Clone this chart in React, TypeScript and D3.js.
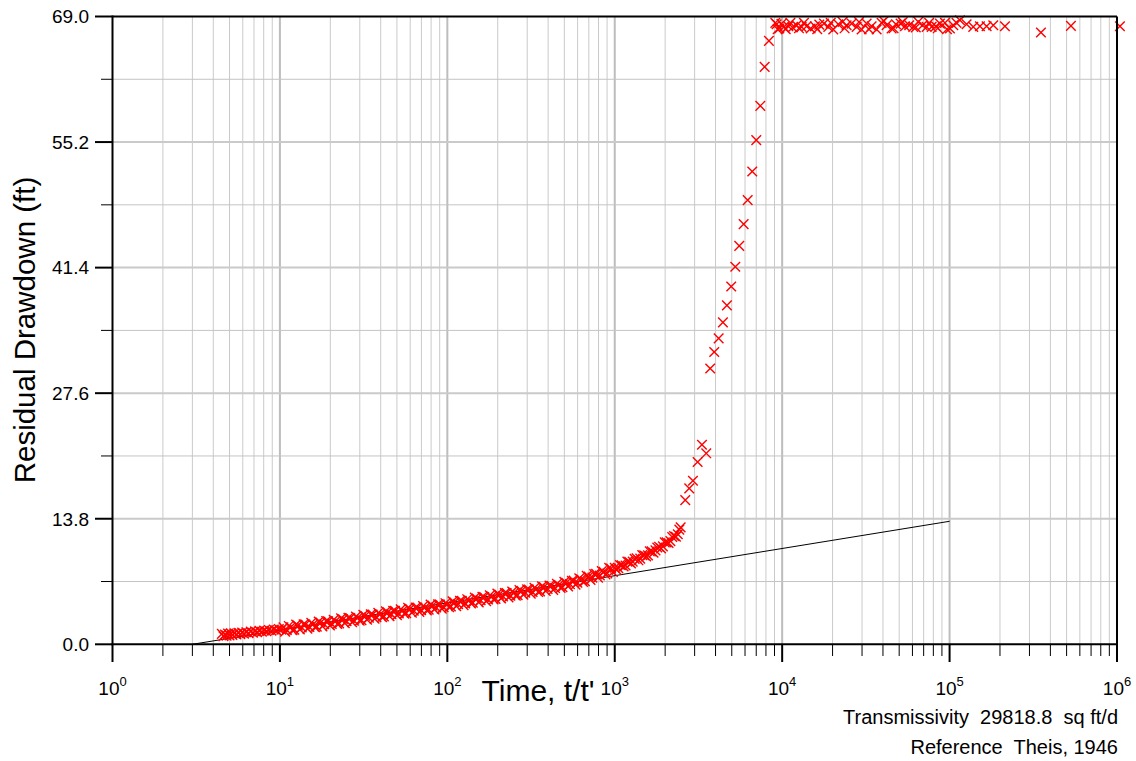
import React from "react";
import * as d3 from "d3";

// ---------- data ----------
// Ratio t/t' and residual drawdown (ft) - main set of readings
const timeRatio: number[] = [
  // early recovery band (t/t' 4.5 - 10)
  4.5, 4.6, 4.7, 4.8, 4.9, 5.0, 5.1, 5.2, 5.35, 5.5, 5.65, 5.8, 5.95, 6.1, 6.3, 6.5, 6.7, 6.9, 7.1, 7.3,
  7.55, 7.8, 8.05, 8.3, 8.6, 8.9, 9.2, 9.5, 9.85, 10.2,
  // 10 - 100
  10.5, 11, 11.6, 12.2, 12.8, 13.5, 14.2, 15, 15.8, 16.6, 17.5, 18.4, 19.4, 20.4, 21.5, 22.6, 23.8, 25,
  26.3, 27.7, 29.2, 30.7, 32.3, 34, 35.8, 37.7, 39.7, 41.8, 44, 46.3, 48.7, 51.3, 54, 56.8, 59.8, 63,
  66.3, 69.8, 73.5, 77.4, 81.5, 85.8, 90.3, 95,
  // 100 - 1000
  100, 105, 110, 116, 122, 128, 135, 142, 150, 158, 166, 175, 184, 194, 204, 215, 226, 238, 250, 263,
  277, 292, 307, 323, 340, 358, 377, 397, 418, 440, 463, 487, 513, 540, 568, 598, 630, 663, 698, 735,
  774, 815, 858, 903, 950,
  // 1000 - 2500
  1000, 1050, 1100, 1160, 1220, 1280, 1350, 1420, 1500, 1580, 1660, 1750, 1840, 1940, 2040, 2150,
  2260, 2380, 2476,
  // steep rise
  2637, 2786, 2931, 3126, 3319, 3520, 3717, 3928, 4175, 4427, 4677, 4963, 5248, 5541, 5888, 6223,
  6627, 7003, 7400, 7860, 8337,
  // plateau
  9265, 9610, 10247, 10877, 11545, 12200, 13065, 13996, 14790, 15700, 16660, 17770, 18860, 20200,
  21640, 22960, 24260, 25990, 27850, 29820, 31950, 34230, 36660, 39270, 42070, 45060, 47820, 51000,
  54120, 57430, 60700, 65010, 69030, 72930, 78100, 82880, 87590, 93840, 100500, 105200, 115300,
  126400, 138500, 151800, 166400, 182400, 214100, 351300, 530700, 1041000,
];

const residualDrawdown: number[] = [
  1.15, 0.88, 1.08, 0.95, 1.18, 0.98, 1.2, 1.02, 1.22, 1.08, 1.26, 1.12, 1.3, 1.16, 1.33, 1.22, 1.4, 1.27,
  1.44, 1.32, 1.48, 1.38, 1.52, 1.43, 1.58, 1.49, 1.62, 1.55, 1.68, 1.6,
  1.87, 1.57, 1.87, 1.6, 2.05, 1.85, 2.18, 1.9, 2.2, 1.94, 2.4, 2.2, 2.54, 2.24, 2.55, 2.29, 2.75, 2.55,
  2.89, 2.6, 2.92, 2.66, 3.13, 2.93, 3.28, 2.99, 3.31, 3.05, 3.52, 3.32, 3.67, 3.38, 3.69, 3.43, 3.89,
  3.69, 4.03, 3.74, 4.05, 3.79, 4.25, 4.04, 4.38, 4.09,
  4.4, 4.15, 4.61, 4.42, 4.77, 4.49, 4.81, 4.56, 5.04, 4.85, 5.2, 4.92, 5.24, 4.99, 5.46, 5.27, 5.62,
  5.34, 5.65, 5.4, 5.87, 5.68, 6.02, 5.74, 6.06, 5.81, 6.28, 6.09, 6.44, 6.18, 6.51, 6.27, 6.76, 6.61,
  7.0, 6.77, 7.14, 6.93, 7.45, 7.33, 7.76, 7.56, 7.96, 7.79, 8.33,
  8.42, 8.37, 8.68, 8.66, 9.07, 9.09, 9.46, 9.42, 9.78, 9.77, 10.21, 10.32, 10.73, 10.76, 11.2, 11.34,
  11.91, 12.09, 12.85,
  15.85, 17.14, 17.97, 20.03, 21.93, 20.99, 30.32, 32.12, 33.62, 35.38, 37.25, 39.33, 41.49, 43.79,
  46.18, 48.82, 51.97, 55.41, 59.18, 63.46, 66.32,
  68.15, 67.68, 67.86, 67.93, 67.79, 68.04, 67.86, 67.93, 67.68, 67.93, 68.11, 68.22, 67.86, 67.57,
  68.15, 68.41, 68.04, 68.22, 67.86, 67.57, 68.22, 67.93, 67.57, 68.3, 68.04, 67.68, 68.15, 68.22,
  67.93, 68.04, 67.86, 68.41, 68.04, 67.86, 67.86, 67.93, 68.22, 68.3, 67.68, 68.04, 68.59, 68.15,
  67.86, 67.93, 67.93, 68.04, 67.93, 67.24, 67.97, 67.93,
];

// second, interleaved set of readings (fills out the dense band and plateau)
const timeRatioB: number[] = [
  10.75, 11.3, 11.9, 12.5, 13.15, 13.85, 14.6, 15.4, 16.2, 17.05, 17.95, 18.9, 19.9, 20.95, 22.05,
  23.2, 24.4, 25.65, 27, 28.45, 29.95, 31.5, 33.15, 34.9, 36.75, 38.7, 40.75, 42.9, 45.15, 47.5, 50,
  52.65, 55.4, 58.3, 61.4, 64.65, 68.05, 71.65, 75.45, 79.45, 83.65, 88.05, 92.65, 97.5,
  102.5, 107.5, 113, 119, 125, 131.5, 138.5, 146, 154, 162, 170.5, 179.5, 189, 199, 209.5, 220.5, 232,
  244, 256.5, 270, 284.5, 299.5, 315, 331.5, 349, 367.5, 387, 407.5, 429, 451.5, 475, 500, 526.5, 554,
  583, 614, 646.5, 680.5, 716.5, 754.5, 794.5, 836.5, 880.5, 926.5, 975,
  1025, 1075, 1130, 1190, 1250, 1315, 1385, 1460, 1540, 1620, 1705, 1795, 1890, 1990, 2095, 2205,
  2320, 2430,
  9100, 9400, 9900, 10500, 11200, 12600, 13500, 16200, 19500, 23600, 28800, 33000, 40500, 46300,
  52500, 62800, 75500, 85000, 96500, 110000,
];

const residualDrawdownB: number[] = [
  1.39, 2.02, 1.55, 2.17, 1.62, 2.2, 1.71, 2.36, 1.88, 2.51, 1.97, 2.56, 2.07, 2.7, 2.23, 2.86, 2.32,
  2.91, 2.42, 3.06, 2.6, 3.23, 2.7, 3.29, 2.81, 3.45, 2.99, 3.63, 3.09, 3.68, 3.2, 3.84, 3.37, 4.0, 3.46,
  4.05, 3.56, 4.2, 3.73, 4.36, 3.82, 4.4, 3.91, 4.52,
  4.08, 4.72, 4.19, 4.79, 4.31, 4.96, 4.5, 5.14, 4.61, 5.21, 4.73, 5.38, 4.93, 5.57, 5.04, 5.63, 5.15,
  5.8, 5.33, 5.97, 5.44, 6.04, 5.56, 6.21, 5.74, 6.38, 5.85, 6.45, 5.98, 6.65, 6.2, 6.86, 6.35, 6.99,
  6.56, 7.26, 6.84, 7.53, 7.06, 7.73, 7.33, 8.06, 7.68, 8.4, 7.95,
  8.18, 8.72, 8.56, 9.09, 8.88, 9.39, 9.23, 9.8, 9.66, 10.21, 10.06, 10.64, 10.54, 11.2, 11.13, 11.79,
  11.82, 12.6,
  68.3, 67.6, 68.2, 67.6, 68.3, 67.7, 68.3, 67.6, 68.3, 67.7, 68.4, 67.6, 68.5, 67.7, 68.4, 67.8, 68.3,
  67.7, 67.6, 68.3,
];

// Straight-line (Cooper-Jacob) fit
const fitTime: number[] = [3.0, 100000];
const fitDrawdown: number[] = [0, 13.52];

const yTickValues: number[] = [0, 13.8, 27.6, 41.4, 55.2, 69.0];
const yMinorValues: number[] = [6.9, 20.7, 34.5, 48.3, 62.1];
const xDecades: number[] = [0, 1, 2, 3, 4, 5, 6];

const FONT = "'Liberation Sans', Arial, Helvetica, sans-serif";

export default function App() {
  const W = 1136;
  const H = 761;
  const left = 112.5;
  const right = 1117;
  const top = 16.5;
  const bottom = 644.3;

  const x = d3.scaleLog().domain([1, 1e6]).range([left, right]);
  const y = d3.scaleLinear().domain([0, 69]).range([bottom, top]);

  const majorX = xDecades.map((k) => Math.pow(10, k));
  const minorX: number[] = [];
  for (let k = 0; k < 6; k++) {
    for (let m = 2; m <= 9; m++) minorX.push(m * Math.pow(10, k));
  }

  const line = d3
    .line<number>()
    .x((_, i) => x(fitTime[i]))
    .y((d) => y(d));

  const pts: [number, number][] = [
    ...timeRatio.map((t, i) => [t, residualDrawdown[i]] as [number, number]),
    ...timeRatioB.map((t, i) => [t, residualDrawdownB[i]] as [number, number]),
  ];
  const r = 4.8;
  const cross = `M${-r},${-r}L${r},${r}M${-r},${r}L${r},${-r}`;

  return (
    <svg
      width={W}
      height={H}
      style={{ position: "absolute", left: 0, top: 0, background: "#fff" }}
      fontFamily={FONT}
    >
      <rect x={0} y={0} width={W} height={H} fill="#fff" />
      {/* vertical grid */}
      {minorX.map((v, i) => (
        <line key={"mx" + i} x1={x(v)} x2={x(v)} y1={top} y2={bottom} stroke="#cacaca" strokeWidth={1} />
      ))}
      {majorX.slice(1, 6).map((v, i) => (
        <line key={"Mx" + i} x1={x(v)} x2={x(v)} y1={top} y2={bottom} stroke="#bdbdbd" strokeWidth={2} />
      ))}
      {/* horizontal grid */}
      {yMinorValues.map((v, i) => (
        <line key={"my" + i} x1={left} x2={right} y1={y(v)} y2={y(v)} stroke="#c4c4c4" strokeWidth={1} />
      ))}
      {yTickValues.slice(1, 5).map((v, i) => (
        <line key={"My" + i} x1={left} x2={right} y1={y(v)} y2={y(v)} stroke="#cacaca" strokeWidth={2} />
      ))}

      {/* fit line */}
      <path d={line(fitDrawdown) || ""} fill="none" stroke="#000" strokeWidth={1} />

      {/* data markers */}
      {pts.map(([t, s], i) => (
        <path
          key={"p" + i}
          d={cross}
          transform={`translate(${x(t)},${y(s)})`}
          stroke="#ff0000"
          strokeWidth={1.4}
          fill="none"
        />
      ))}

      {/* frame */}
      <line x1={left} x2={right} y1={top} y2={top} stroke="#000" strokeWidth={2} />
      <line x1={right} x2={right} y1={top} y2={bottom} stroke="#000" strokeWidth={2} />
      <line x1={left} x2={left} y1={top - 1} y2={bottom + 1} stroke="#000" strokeWidth={2} />
      <line x1={left - 1} x2={right + 1} y1={bottom} y2={bottom} stroke="#000" strokeWidth={2} />

      {/* y ticks */}
      {yTickValues.map((v, i) => (
        <g key={"yt" + i}>
          <line x1={95} x2={left} y1={y(v)} y2={y(v)} stroke="#000" strokeWidth={2} />
          <text x={89} y={y(v) + 6.8} textAnchor="end" fontSize={19} fill="#000">
            {v.toFixed(1)}
          </text>
        </g>
      ))}
      {yMinorValues.map((v, i) => (
        <line key={"ym" + i} x1={101} x2={left} y1={y(v)} y2={y(v)} stroke="#000" strokeWidth={1} />
      ))}

      {/* x ticks */}
      {minorX.map((v, i) => (
        <line key={"xm" + i} x1={x(v)} x2={x(v)} y1={bottom} y2={656} stroke="#000" strokeWidth={1} />
      ))}
      {majorX.map((v, i) => (
        <g key={"xt" + i}>
          <line x1={x(v)} x2={x(v)} y1={bottom} y2={662} stroke="#000" strokeWidth={2} />
          <text x={x(v)} y={694.5} textAnchor="middle" fontSize={19} fill="#000">
            10
            <tspan dy={-9} fontSize={13}>
              {xDecades[i]}
            </tspan>
          </text>
        </g>
      ))}

      {/* axis titles */}
      <text x={538} y={701} textAnchor="middle" fontSize={30} fill="#000">
        Time, t/t'
      </text>
      <text
        transform={`translate(35,330) rotate(-90)`}
        textAnchor="middle"
        fontSize={29.5}
        fill="#000"
      >
        Residual Drawdown (ft)
      </text>

      {/* annotations */}
      <text x={1118} y={724} textAnchor="end" fontSize={20} fill="#000" style={{ whiteSpace: "pre" }}>
        {"Transmissivity  29818.8  sq ft/d"}
      </text>
      <text x={1118} y={754} textAnchor="end" fontSize={20} fill="#000" style={{ whiteSpace: "pre" }}>
        {"Reference  Theis, 1946"}
      </text>
    </svg>
  );
}
